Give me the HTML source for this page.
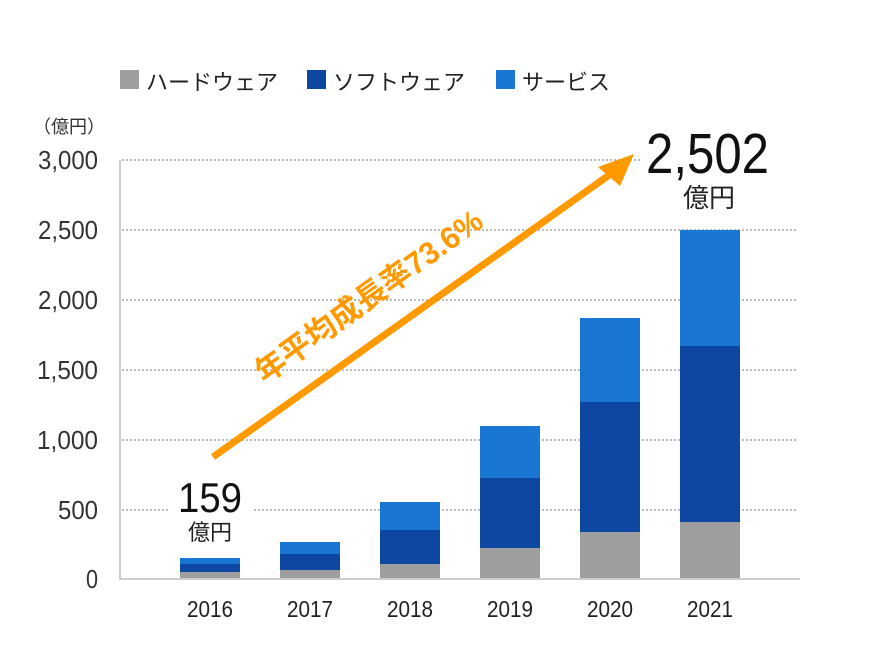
<!DOCTYPE html>
<html><head><meta charset="utf-8"><style>
html,body{margin:0;padding:0;background:#fff;}
svg{display:block;}
</style></head><body>
<svg width="880" height="660" viewBox="0 0 880 660" xmlns="http://www.w3.org/2000/svg">
<rect width="880" height="660" fill="#fff"/>
<!-- legend -->
<g font-family="'Liberation Sans','Noto Sans CJK JP',sans-serif" font-size="22" fill="#222">
<rect x="120" y="70" width="19" height="19" fill="#9e9e9e"/>
<text x="146" y="90">ハードウェア</text>
<rect x="307" y="70" width="19" height="19" fill="#0d47a1"/>
<text x="333" y="90">ソフトウェア</text>
<rect x="496" y="70" width="19" height="19" fill="#1976d2"/>
<text x="522" y="90">サービス</text>
</g>
<text x="33" y="133" font-family="'Noto Sans CJK JP',sans-serif" font-size="18" fill="#333">（億円）</text>
<!-- gridlines -->
<g stroke="#bdbdbd" stroke-width="2" stroke-dasharray="2 2">
<line x1="122" y1="160" x2="798" y2="160"/>
<line x1="122" y1="230" x2="798" y2="230"/>
<line x1="122" y1="300" x2="798" y2="300"/>
<line x1="122" y1="370" x2="798" y2="370"/>
<line x1="122" y1="440" x2="798" y2="440"/>
<line x1="122" y1="510" x2="798" y2="510"/>
</g>
<!-- axes -->
<line x1="120" y1="160" x2="120" y2="580" stroke="#cccccc" stroke-width="2"/>
<line x1="119" y1="579" x2="800" y2="579" stroke="#cccccc" stroke-width="2"/>
<!-- y labels -->
<g font-family="'Liberation Sans',sans-serif" font-size="26" fill="#333" text-anchor="end">
<text x="98" y="169" textLength="60" lengthAdjust="spacingAndGlyphs">3,000</text>
<text x="98" y="239" textLength="60" lengthAdjust="spacingAndGlyphs">2,500</text>
<text x="98" y="309" textLength="60" lengthAdjust="spacingAndGlyphs">2,000</text>
<text x="98" y="379" textLength="61" lengthAdjust="spacingAndGlyphs">1,500</text>
<text x="98" y="449" textLength="61" lengthAdjust="spacingAndGlyphs">1,000</text>
<text x="98" y="519" textLength="40" lengthAdjust="spacingAndGlyphs">500</text>
<text x="98" y="588" textLength="12" lengthAdjust="spacingAndGlyphs">0</text>
</g>
<!-- label backgrounds -->
<rect x="168" y="476" width="84" height="70" fill="#fff"/>
<rect x="640" y="124" width="160" height="90" fill="#fff"/>
<!-- bars -->
<g>
<rect x="180" y="558" width="60" height="6" fill="#1976d2"/>
<rect x="180" y="564" width="60" height="8" fill="#0d47a1"/>
<rect x="180" y="572" width="60" height="6" fill="#9e9e9e"/>

<rect x="280" y="542" width="60" height="12" fill="#1976d2"/>
<rect x="280" y="554" width="60" height="16" fill="#0d47a1"/>
<rect x="280" y="570" width="60" height="8" fill="#9e9e9e"/>

<rect x="380" y="502" width="60" height="28" fill="#1976d2"/>
<rect x="380" y="530" width="60" height="34" fill="#0d47a1"/>
<rect x="380" y="564" width="60" height="14" fill="#9e9e9e"/>

<rect x="480" y="426" width="60" height="52" fill="#1976d2"/>
<rect x="480" y="478" width="60" height="70" fill="#0d47a1"/>
<rect x="480" y="548" width="60" height="30" fill="#9e9e9e"/>

<rect x="580" y="318" width="60" height="84" fill="#1976d2"/>
<rect x="580" y="402" width="60" height="130" fill="#0d47a1"/>
<rect x="580" y="532" width="60" height="46" fill="#9e9e9e"/>

<rect x="680" y="230" width="60" height="116" fill="#1976d2"/>
<rect x="680" y="346" width="60" height="176" fill="#0d47a1"/>
<rect x="680" y="522" width="60" height="56" fill="#9e9e9e"/>
</g>
<!-- x labels -->
<g font-family="'Liberation Sans',sans-serif" font-size="23" fill="#222" text-anchor="middle">
<text x="210" y="617" textLength="46" lengthAdjust="spacingAndGlyphs">2016</text>
<text x="310" y="617" textLength="46" lengthAdjust="spacingAndGlyphs">2017</text>
<text x="410" y="617" textLength="46" lengthAdjust="spacingAndGlyphs">2018</text>
<text x="510" y="617" textLength="46" lengthAdjust="spacingAndGlyphs">2019</text>
<text x="610" y="617" textLength="46" lengthAdjust="spacingAndGlyphs">2020</text>
<text x="710" y="617" textLength="46" lengthAdjust="spacingAndGlyphs">2021</text>
</g>
<!-- value labels -->
<text x="210" y="512" font-family="'Liberation Sans',sans-serif" font-size="42" fill="#111" text-anchor="middle" textLength="64" lengthAdjust="spacingAndGlyphs">159</text>
<text x="210" y="540" font-family="'Liberation Sans','Noto Sans CJK JP',sans-serif" font-size="22" fill="#222" text-anchor="middle">億円</text>
<text x="707.5" y="173" font-family="'Liberation Sans',sans-serif" font-size="57" fill="#111" text-anchor="middle" textLength="123" lengthAdjust="spacingAndGlyphs">2,502</text>
<text x="709" y="207" font-family="'Liberation Sans','Noto Sans CJK JP',sans-serif" font-size="26" fill="#222" text-anchor="middle">億円</text>
<!-- arrow -->
<line x1="213" y1="457" x2="612" y2="173" stroke="#ff9900" stroke-width="7"/>
<polygon points="634,154 598,167 620,186" fill="#ff9900"/>
<text x="375" y="305" transform="rotate(-35.8 375 305)" font-family="'Liberation Sans','Noto Sans CJK JP',sans-serif" font-size="31" font-weight="bold" fill="#ff9900" text-anchor="middle" textLength="272" lengthAdjust="spacingAndGlyphs">年平均成長率73.6%</text>
</svg>
</body></html>
